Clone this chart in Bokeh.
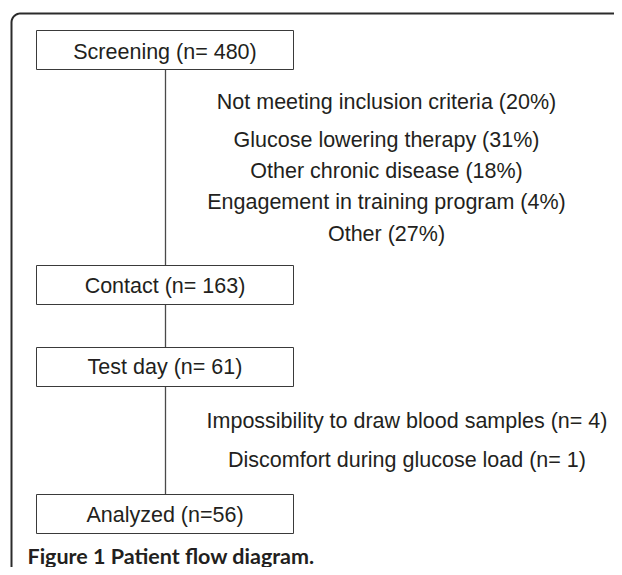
import numpy as np
from bokeh.plotting import figure
from bokeh.models import Range1d, ColumnDataSource
from bokeh.core.properties import value
from bokeh.embed import file_html
from bokeh.resources import INLINE

# ---- data ----
stages = ["Screening", "Contact", "Test day", "Analyzed"]
stage_n = ["n= 480", "n= 163", "n= 61", "n=56"]
excl_top = ["Not meeting inclusion criteria (20%)", "Glucose lowering therapy (31%)",
            "Other chronic disease (18%)", "Engagement in training program (4%)", "Other (27%)"]
excl_bottom = ["Impossibility to draw blood samples (n= 4)", "Discomfort during glucose load (n= 1)"]
caption = "Figure 1 Patient flow diagram."

# ---- layout (screen pixel coordinates) ----
box_top = [30, 265, 347, 494]
box_h = 39
box_left, box_right = 36, 293
cx = 165
stage_mid = [51, 285, 366.5, 514.5]
top_mid = [101, 139, 170.5, 201.5, 233.5]
bot_mid = [420.5, 459.5]

TXT = "#231f20"
FONT = "Liberation Sans"

W, H = 614, 567
p = figure(width=W, height=H, output_backend="svg", toolbar_location=None,
           x_range=Range1d(0, W), y_range=Range1d(H, 0), min_border=0)
p.axis.visible = False
p.grid.visible = False
p.outline_line_color = None
p.background_fill_color = "white"

# outer frame with rounded corner (left and top sides)
r = 9
fx, fy = 11, 13
ang = np.linspace(np.pi, 1.5 * np.pi, 20)
arc_x = fx + r + r * np.cos(ang)
arc_y = fy + r + r * np.sin(ang)
frame_x = np.concatenate([[fx], arc_x, [640]])
frame_y = np.concatenate([[600], arc_y, [fy]])
p.line(frame_x, frame_y, line_color="#2b2b2b", line_width=2)

# connectors
for i in range(len(stages) - 1):
    p.segment(x0=cx, y0=box_top[i] + box_h, x1=cx, y1=box_top[i + 1],
              line_color="#4a4a4a", line_width=1.3)

# boxes
src = ColumnDataSource(dict(
    left=[box_left] * len(stages), right=[box_right] * len(stages),
    top=box_top, bottom=[t + box_h for t in box_top],
    label=[f"{s} ({n})" for s, n in zip(stages, stage_n)],
    tx=[(box_left + box_right) / 2] * len(stages), ty=stage_mid))
p.quad(left="left", right="right", top="top", bottom="bottom", source=src,
       fill_color="white", line_color="#3a3a3a", line_width=1)
p.text(x="tx", y="ty", text="label", source=src, text_align="center",
       text_baseline="middle", text_font=value(FONT), text_font_size="21.5px",
       text_color=TXT)

# exclusion reasons
p.text(x=[386] * len(excl_top), y=top_mid, text=excl_top, text_align="center",
       text_baseline="middle", text_font=value(FONT), text_font_size="21.5px",
       text_color=TXT)
p.text(x=[406.5] * len(excl_bottom), y=bot_mid, text=excl_bottom, text_align="center",
       text_baseline="middle", text_font=value(FONT), text_font_size="21.5px",
       text_color=TXT)

# caption
p.text(x=[27], y=[555], text=[caption], text_align="left", text_baseline="middle",
       text_font=value("Lato"), text_font_style="bold", text_font_size="21.5px",
       text_color=TXT)

open("out.html", "w").write(file_html(p, INLINE))
